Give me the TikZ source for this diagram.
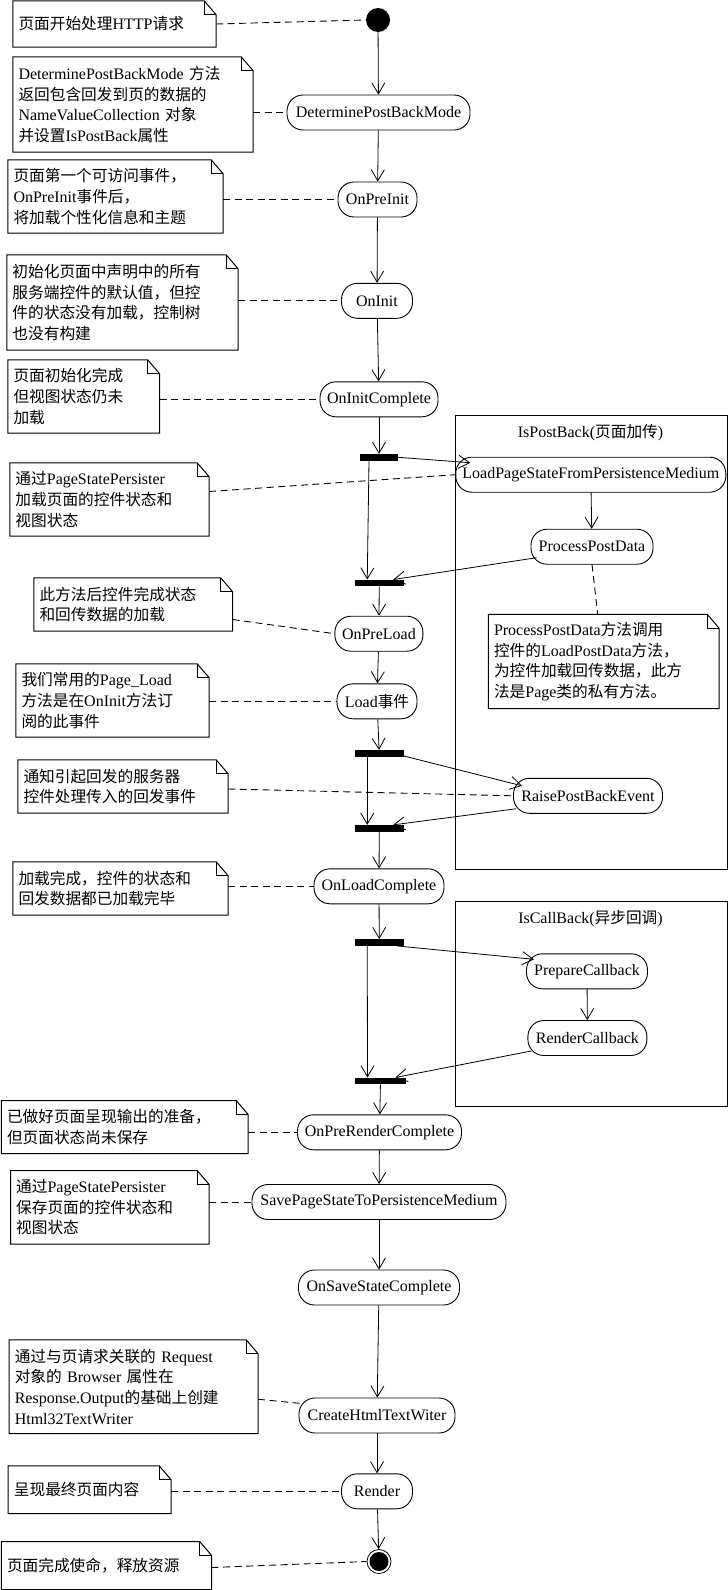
\documentclass[tikz,border=0pt]{standalone}
\usepackage{fontspec}
\setmainfont{Liberation Serif}
\newfontfamily\zhfont{Noto Sans CJK SC}[Scale=0.98]
\usetikzlibrary{arrows.meta,calc}
\XeTeXinterchartokenstate=1
\chardef\zhclass=7
\newcount\zhcnt
\newcommand\zhrange[2]{\zhcnt=#1\relax\loop\XeTeXcharclass\zhcnt=\zhclass\advance\zhcnt by 1\relax\ifnum\zhcnt<#2\relax\repeat}
\zhrange{"3000}{"3040}
\zhrange{"4E00}{"A000}
\zhrange{"FF00}{"FFF0}
\XeTeXinterchartoks 0 \zhclass = {\zhfont}
\XeTeXinterchartoks 4095 \zhclass = {\zhfont}
\XeTeXinterchartoks \zhclass 0 = {\rmfamily}
\XeTeXinterchartoks \zhclass 4095 = {\rmfamily}
\newcommand\drawnotebox[1]{%
  \draw[noteline] (#1.north west) -- ([xshift=-12pt]#1.north east) -- ([yshift=-14pt]#1.north east) -- (#1.south east) -- (#1.south west) -- cycle;
  \draw[noteline] ([xshift=-12pt]#1.north east) |- ([yshift=-14pt]#1.north east);}
\begin{document}
\begin{tikzpicture}[x=1pt,y=-1pt,
  every node/.style={font=\fontsize{16}{20.6}\selectfont},
  act/.style={draw, line width=0.9pt, rounded corners=16pt, minimum height=35pt, inner sep=1pt},
  bar/.style={fill=black, inner sep=0pt, minimum height=6.5pt},
  note/.style={inner xsep=5.5pt, inner ysep=0pt, align=left},
  group/.style={draw, line width=0.9pt, inner sep=0pt},
  arr/.style={line width=0.8pt, -{Straight Barb[length=11pt,width=13pt]}},
  link/.style={line width=0.9pt, dash pattern=on 7pt off 4.5pt},
  noteline/.style={line width=1pt}]
\fill[white] (0,0) rectangle (728,1590);
\useasboundingbox (0,0) rectangle (728,1590);

% group boxes
\node[group, minimum width=272pt, minimum height=454pt] (pbbox) at (591,642) {};
\node (pbtitle) at (590.5,432.7) {IsPostBack(页面加传)};
\node[group, minimum width=272.5pt, minimum height=204.3pt] (cbbox) at (591.25,1003.85) {};
\node (cbtitle) at (590.5,918.3) {IsCallBack(异步回调)};

% start / end
\node[circle, fill=black, minimum size=24pt, inner sep=0pt] (start) at (378,20) {};
\node[circle, draw, line width=0.8pt, minimum size=24pt, inner sep=0pt] (stop) at (379,1561.5) {};
\fill (stop.center) circle[radius=9.5pt];

% activities
\node[act, minimum width=183pt] (dpbm) at (378.5,112.5) {DeterminePostBackMode};
\node[act, minimum width=79pt] (preinit) at (377.5,199.5) {OnPreInit};
\node[act, minimum width=71pt] (init) at (377,300.8) {OnInit};
\node[act, minimum width=118pt] (initc) at (379,399.3) {OnInitComplete};
\node[act, minimum width=270pt] (loadps) at (590.8,474.7) {LoadPageStateFromPersistenceMedium};
\node[act, minimum width=122pt] (ppd) at (592,546.7) {ProcessPostData};
\node[act, minimum width=88pt] (preload) at (378.9,633.7) {OnPreLoad};
\node[act, minimum width=80pt] (load) at (377,701.3) {Load事件};
\node[act, minimum width=149pt] (rpbe) at (588,795.8) {RaisePostBackEvent};
\node[act, minimum width=130pt] (loadc) at (379,886.3) {OnLoadComplete};
\node[act, minimum width=121pt] (prepcb) at (587,971.3) {PrepareCallback};
\node[act, minimum width=119pt] (rendcb) at (587.4,1038) {RenderCallback};
\node[act, minimum width=164pt] (prerc) at (379.5,1132.3) {OnPreRenderComplete};
\node[act, minimum width=254pt] (savep) at (379,1202) {SavePageStateToPersistenceMedium};
\node[act, minimum width=161pt] (savesc) at (379,1287.5) {OnSaveStateComplete};
\node[act, minimum width=156pt] (create) at (377,1415.5) {CreateHtmlTextWiter};
\node[act, minimum width=71pt] (render) at (377,1491.3) {Render};

% fork / join bars
\node[bar, minimum width=38pt] (fork1) at (379,457.3) {};
\node[bar, minimum width=48.5pt] (join1) at (379.25,583) {};
\node[bar, minimum width=48.5pt] (fork2) at (379.25,753.3) {};
\node[bar, minimum width=48.5pt] (join2) at (379.25,828.3) {};
\node[bar, minimum width=48.5pt] (fork3) at (379.25,942.5) {};
\node[bar, minimum width=51pt] (join3) at (380.5,1080.9) {};

% notes
\node[note, text width=192pt, minimum height=46pt] (n1) at (114.5,24) {页面开始处理HTTP请求};
\node[note, text width=229pt, minimum height=95pt] (n2) at (133,104.5) {DeterminePostBackMode 方法\\返回包含回发到页的数据的\\NameValueCollection 对象\\并设置IsPostBack属性};
\node[note, text width=204pt, minimum height=73pt] (n3) at (115.5,196.5) {页面第一个可访问事件，\\OnPreInit事件后，\\将加载个性化信息和主题};
\node[note, text width=220pt, minimum height=95pt] (n4) at (122.5,302.5) {初始化页面中声明中的所有\\服务端控件的默认值，但控\\件的状态没有加载，控制树\\也没有构建};
\node[note, text width=140.5pt, minimum height=73pt] (n5) at (83.75,396.5) {页面初始化完成\\但视图状态仍未\\加载};
\node[note, text width=188pt, minimum height=73pt] (n6) at (109.5,499.5) {通过PageStatePersister\\加载页面的控件状态和\\视图状态};
\node[note, text width=187.5pt, minimum height=53pt] (n7) at (133.25,604.5) {此方法后控件完成状态\\和回传数据的加载};
\node[note, text width=219.5pt, minimum height=94pt] (n8) at (603.75,661.5) {ProcessPostData方法调用\\控件的LoadPostData方法，\\为控件加载回传数据，此方\\法是Page类的私有方法。};
\node[note, text width=182pt, minimum height=73pt] (n9) at (112.5,700.5) {我们常用的Page\_Load\\方法是在OnInit方法订\\阅的此事件};
\node[note, text width=199pt, minimum height=53pt] (n10) at (123,786.5) {通知引起回发的服务器\\控件处理传入的回发事件};
\node[note, text width=204pt, minimum height=53pt] (n11) at (120.5,888.5) {加载完成，控件的状态和\\回发数据都已加载完毕};
\node[note, text width=235.5pt, minimum height=52.6pt] (n12) at (124.75,1127) {已做好页面呈现输出的准备，\\但页面状态尚未保存};
\node[note, text width=187.3pt, minimum height=73.3pt] (n13) at (109.85,1207.35) {通过PageStatePersister\\保存页面的控件状态和\\视图状态};
\node[note, text width=237.7pt, minimum height=93.3pt] (n14) at (133.65,1386.65) {通过与页请求关联的 Request\\对象的 Browser 属性在\\Response.Output的基础上创建\\Html32TextWriter};
\node[note, text width=151.6pt, minimum height=47.3pt] (n15) at (89.7,1489.65) {呈现最终页面内容};
\node[note, text width=199pt, minimum height=47.6pt] (n16) at (106.5,1565.5) {页面完成使命，释放资源};
\foreach \n in {n1,n2,n3,n4,n5,n6,n7,n8,n9,n10,n11,n12,n13,n14,n15,n16}{\drawnotebox{\n}}

% control flow
\draw[arr] (start) -- (dpbm);
\draw[arr] (dpbm) -- (preinit);
\draw[arr] (preinit) -- (init);
\draw[arr] (init) -- (initc);
\draw[arr] (initc) -- (fork1);
\draw[arr] (fork1.east) -- ($(loadps.north west)+(15,6)$);
\draw[arr] ([xshift=-10pt]fork1.south) -- ([xshift=-12pt]join1.north);
\draw[arr] (loadps) -- (ppd);
\draw[arr] ($(ppd.west)+(6,11)$) -- ([xshift=14pt]join1.north);
\draw[arr] (join1) -- (preload);
\draw[arr] (preload) -- (load);
\draw[arr] (load) -- (fork2);
\draw[arr] ([xshift=14pt]fork2.center) -- ($(rpbe.north west)+(9,8)$);
\draw[arr] ([xshift=-12pt]fork2.south) -- ([xshift=-12pt]join2.north);
\draw[arr] ($(rpbe.south west)+(3,-5)$) -- ([xshift=14pt]join2.north);
\draw[arr] (join2) -- (loadc);
\draw[arr] (loadc) -- (fork3);
\draw[arr] ([xshift=18pt]fork3.south) -- ($(prepcb.north west)+(8,6)$);
\draw[arr] (prepcb) -- (rendcb);
\draw[arr] ($(rendcb.south west)+(4,-5)$) -- ([xshift=15pt]join3.north);
\draw[arr] ([xshift=-12pt]fork3.south) -- ([xshift=-13pt]join3.north);
\draw[arr] (join3) -- (prerc);
\draw[arr] (prerc) -- (savep);
\draw[arr] (savep) -- (savesc);
\draw[arr] (savesc) -- (create);
\draw[arr] (create) -- (render);
\draw[arr] (render) -- (stop);

% note links
\draw[link] (n1.east) -- (start.west);
\draw[link] (dpbm.west -| n2.east) -- (dpbm.west);
\draw[link] (preinit.west -| n3.east) -- (preinit.west);
\draw[link] (init.west -| n4.east) -- (init.west);
\draw[link] (initc.west -| n5.east) -- (initc.west);
\draw[link] ([yshift=8pt]n6.east) -- (loadps.west);
\draw[link] ([yshift=-15pt]n7.east) -- (preload.west);
\draw[link] (ppd.south) -- ([xshift=-6pt]n8.north);
\draw[link] (load.west -| n9.east) -- (load.west);
\draw[link] ([yshift=-2.5pt]n10.east) -- (rpbe.west);
\draw[link] (loadc.west -| n11.east) -- (loadc.west);
\draw[link] (prerc.west -| n12.east) -- (prerc.west);
\draw[link] (savep.west -| n13.east) -- (savep.west);
\draw[link] ([yshift=-12.6pt]n14.east) -- ([xshift=3pt,yshift=12pt]create.west);
\draw[link] (render.west -| n15.east) -- (render.west);
\draw[link] ([yshift=-2pt]n16.east) -- (stop.west);
\end{tikzpicture}
\end{document}
